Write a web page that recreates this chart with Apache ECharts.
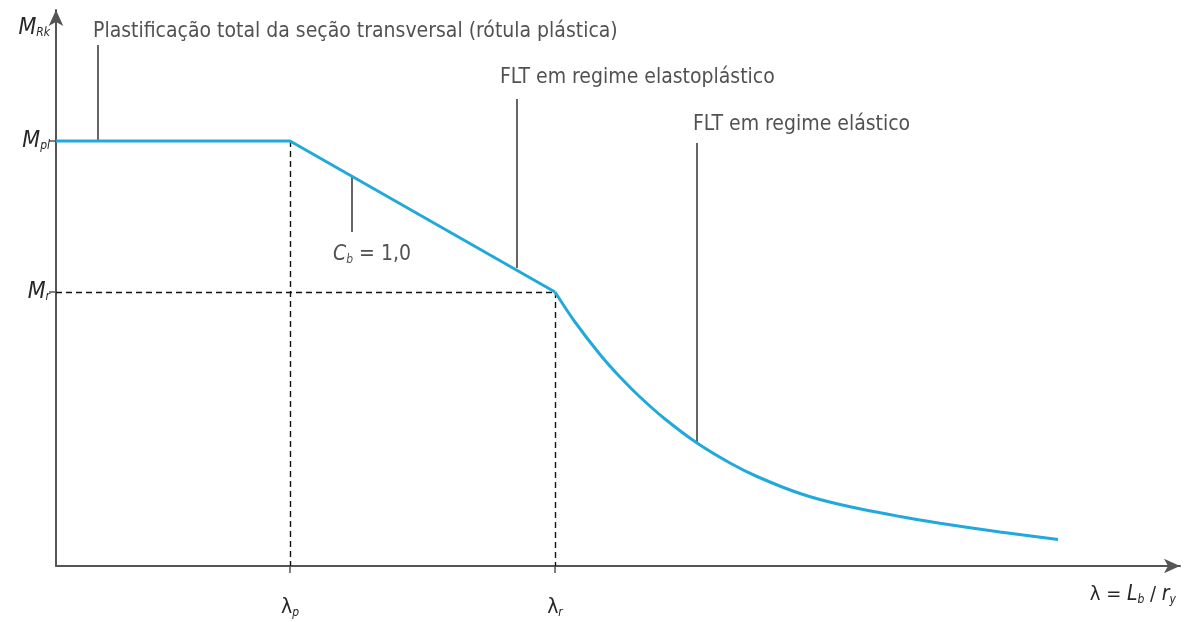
<!DOCTYPE html>
<html><head><meta charset="utf-8">
<script src="https://cdn.jsdelivr.net/npm/echarts@6/dist/echarts.min.js"></script>
<style>html,body{margin:0;padding:0;background:#fff}#c{width:1186px;height:622px}</style>
</head><body><div id="c"></div>
<script>
// ---- data (arbitrary units: λ along x, M along y) ----
const plasticX = [0, 23.4, 49.9];          // plateau and inelastic segment
const plasticY = [42.5, 42.5, 27.4];
const elasticX = [49.9, 51.9, 54.4, 56.4, 58.4, 60.9, 64.1, 67.4, 70.1, 74.4, 78.4, 84.4, 88.4, 94.4, 100.2];
const elasticY = [27.4, 24.4, 21.15, 18.9, 16.9, 14.7, 12.3, 10.3, 8.95, 7.25, 6.15, 4.95, 4.27, 3.41, 2.66];
const xTickValues = [23.4, 49.9];
const xTickLabels = ['{l|λ}{s|p}', '{l|λ}{s|r}'];
const yTickValues = [42.5, 27.4];
const yTickLabels = ['{m|M}{s|pl}', '{m|M}{s|r}'];
// annotations: leader line x, top y, bottom y; text anchor x, y; text
const leadX = [4.2, 29.6, 46.1, 64.1];
const leadTop = [52.1, 38.9, 46.7, 42.3];
const leadBot = [42.5, 33.4, 29.8, 12.3];
const noteX = [3.7, 27.7, 44.4, 63.7];
const noteY = [53.4, 31.1, 48.8, 44.1];
const noteText = [
  'Plastificação total da seção transversal (rótula plástica)',
  '{i|C}{s|b}{t| = 1,0}',
  'FLT em regime elastoplástico',
  'FLT em regime elástico'
];

const FONT = "'Liberation Sans Narrow','DejaVu Sans Condensed','Liberation Sans',sans-serif";
const TXT = '#262626';
const AX = '#555555';
const BLUE = '#22a9dc';

const chart = echarts.init(document.getElementById('c'), null, {renderer: 'canvas'});
const richSub = {
  m: {fontFamily: FONT, fontStyle: 'italic', fontSize: 23, color: TXT},
  l: {fontFamily: FONT, fontSize: 21, color: TXT},
  s: {fontFamily: FONT, fontStyle: 'italic', fontSize: 12, color: TXT, padding: [10, 0, 0, 0]},
  i: {fontFamily: FONT, fontStyle: 'italic', fontSize: 21, color: TXT},
  t: {fontFamily: FONT, fontSize: 21, color: TXT}
};
function findLabel(vals, labels, v) {
  for (let i = 0; i < vals.length; i++) if (Math.abs(vals[i] - v) < 1e-6) return labels[i];
  return '';
}
const option = {
  animation: false,
  backgroundColor: '#fff',
  grid: {left: 56, right: 6, top: 10, bottom: 56},
  xAxis: {
    type: 'value', min: 0, max: 112.4,
    splitLine: {show: false},
    axisLine: {lineStyle: {color: AX, width: 2}, symbol: ['none', 'arrow'], symbolSize: [11, 16]},
    axisTick: {show: true, customValues: xTickValues, length: 7, lineStyle: {color: AX, width: 1.5}},
    axisLabel: {customValues: xTickValues, margin: 31, rich: richSub,
      formatter: v => findLabel(xTickValues, xTickLabels, v)},
    name: '{l|λ = }{i|L}{s|b}{l| / }{i|r}{s|y}',
    nameLocation: 'end', nameGap: -4,
    nameTextStyle: {align: 'right', verticalAlign: 'top', padding: [18, 0, 0, 0], rich: {
      l: {fontFamily: FONT, fontSize: 20, color: TXT},
      i: {fontFamily: FONT, fontStyle: 'italic', fontSize: 21, color: TXT},
      s: {fontFamily: FONT, fontStyle: 'italic', fontSize: 12, color: TXT, padding: [10, 0, 0, 0]}
    }}
  },
  yAxis: {
    type: 'value', min: 0, max: 55.6,
    splitLine: {show: false},
    axisLine: {lineStyle: {color: AX, width: 2}, symbol: ['none', 'arrow'], symbolSize: [11, 16]},
    axisTick: {show: true, customValues: yTickValues, length: 7, lineStyle: {color: AX, width: 1.5}},
    axisLabel: {customValues: yTickValues, margin: 6, rich: richSub,
      formatter: v => findLabel(yTickValues, yTickLabels, v)},
    name: '{m|M}{s|Rk}',
    nameLocation: 'end', nameGap: -18,
    nameTextStyle: {align: 'right', verticalAlign: 'middle', padding: [0, 6, 0, 0], rich: richSub}
  },
  series: [
    {
      type: 'line', data: plasticX.map((x, i) => [x, plasticY[i]]),
      symbol: 'none', lineStyle: {color: BLUE, width: 3}, z: 5,
      markLine: {
        silent: true, symbol: 'none', label: {show: false},
        lineStyle: {color: '#111', type: [6, 4], width: 1.4},
        data: [
          [{coord: [plasticX[1], plasticY[1]]}, {coord: [plasticX[1], 0]}],
          [{coord: [0, plasticY[2]]}, {coord: [plasticX[2], plasticY[2]]}],
          [{coord: [plasticX[2], plasticY[2]]}, {coord: [plasticX[2], 0]}]
        ]
      }
    },
    {
      type: 'line', data: elasticX.map((x, i) => [x, elasticY[i]]),
      symbol: 'none', smooth: 0.3, lineStyle: {color: BLUE, width: 3}, z: 5
    },
    {
      type: 'scatter', symbolSize: 0, z: 6,
      data: noteX.map((x, i) => [x, noteY[i], noteText[i]]),
      label: {show: true, position: 'right', distance: 0, color: TXT,
        fontFamily: FONT, fontSize: 21,
        formatter: p => p.data[2], rich: richSub},
      markLine: {
        silent: true, symbol: 'none', label: {show: false},
        lineStyle: {color: '#333', type: 'solid', width: 1.5},
        data: leadX.map((x, i) => [{coord: [x, leadTop[i]]}, {coord: [x, leadBot[i]]}])
      }
    }
  ]
};
chart.setOption(option);
</script></body></html>
